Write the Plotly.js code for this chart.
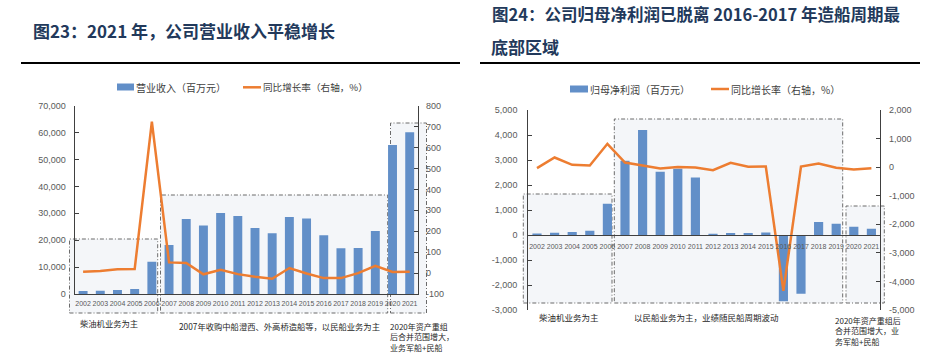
<!DOCTYPE html>
<html>
<head>
<meta charset="utf-8">
<script src="https://cdn.plot.ly/plotly-3.0.1.min.js"></script>
<style>
html,body{margin:0;padding:0;background:#fff;}
#chart{width:943px;height:354px;}
</style>
</head>
<body>
<div id="chart"></div>
<script>
// ---------- data ----------
const years = ['2002','2003','2004','2005','2006','2007','2008','2009','2010','2011',
               '2012','2013','2014','2015','2016','2017','2018','2019','2020','2021'];
// Figure 23: revenue (million yuan) and YoY growth (%)
const revenue = [1100,1250,1500,1850,12000,18200,27900,25500,30100,29000,
                 24500,22550,28600,28100,21800,17000,17100,23400,55400,60100];
const revenueGrowth = [6,10,18,19,724,51,48,-6,16,-5,
                       -18,-27,24,-2,-24,-24,0,35,5,6];
// Figure 24: net profit attributable (million yuan) and YoY growth (%)
const profit = [60,90,120,170,1250,2970,4200,2530,2650,2300,
                53,80,80,100,-2650,-2350,520,453,333,253];
const profitGrowth = [-35,338,82,58,817,163,58,-47,5,-13,
                      -105,152,12,23,-4330,23,128,-23,-82,-35];

// tick labels
const revTicks = [0,10000,20000,30000,40000,50000,60000,70000];
const revGrowthTicks = [-100,0,100,200,300,400,500,600,700,800];
const revGrowthText = ['-100','0','100','200','300','400','500','600','700','800'];
const profitTicks = [-3000,-2000,-1000,0,1000,2000,3000,4000,5000];
const profitText = ['-3,000','-2,000','-1,000','0','1,000','2,000','3,000','4,000','5,000'];
const profitGrowthTicks = [-5000,-4000,-3000,-2000,-1000,0,1000,2000];
const profitGrowthText = ['-5,000','-4,000','-3,000','-2,000','-1,000','0','1,000','2,000'];

// text
const title23 = '图23：2021 年，公司营业收入平稳增长';
const title24a = '图24：公司归母净利润已脱离 2016-2017 年造船周期最';
const title24b = '底部区域';
const legRev = '营业收入（百万元）';
const legGrowth = '同比增长率（右轴，%）';
const legProfit = '归母净利润（百万元）';
const noteA = '柴油机业务为主';
const noteB = '2007年收购中船澄西、外高桥造船等，以民船业务为主';
const noteC = '2020年资产重组<br>后合并范围增大，<br>业务军船+民船';
const noteD = '以民船业务为主，业绩随民船周期波动';
const noteE = '2020年资产重组后<br>合并范围增大，业<br>务军船+民船';

// ---------- styling helpers ----------
const W = 943, H = 354;
const px = x => x / W;
const py = y => 1 - y / H;
const BAR = '#628fc8';
const ORANGE = '#ed7d31';
const AXIS = '#404040';
const TICK = '#595959';
const TITLE = '#22395b';
const CJK = 'Noto Sans CJK SC, sans-serif';
const NUM = 'Liberation Sans, Arial, sans-serif';

const traces = [
  {type:'bar', x:years, y:revenue, name:legRev, xaxis:'x', yaxis:'y',
   marker:{color:BAR}, showlegend:false, hoverinfo:'skip'},
  {type:'scatter', mode:'lines', x:years, y:revenueGrowth, name:legGrowth, xaxis:'x', yaxis:'y2',
   line:{color:ORANGE, width:2.5}, showlegend:false, hoverinfo:'skip'},
  {type:'bar', x:years, y:profit, name:legProfit, xaxis:'x2', yaxis:'y3',
   marker:{color:BAR}, showlegend:false, hoverinfo:'skip'},
  {type:'scatter', mode:'lines', x:years, y:profitGrowth, name:legGrowth, xaxis:'x2', yaxis:'y4',
   line:{color:ORANGE, width:2.5}, showlegend:false, hoverinfo:'skip'}
];

function yAx(extra){
  return Object.assign({
    showgrid:false, zeroline:false, showline:true, linecolor:AXIS, linewidth:1,
    ticks:'inside', ticklen:4, tickcolor:AXIS, tickwidth:1,
    tickfont:{family:NUM, size:9, color:TICK}, fixedrange:true
  }, extra);
}
function xAx(extra){
  return Object.assign({
    type:'category', showgrid:false, zeroline:false, showline:true, linecolor:AXIS, linewidth:1,
    ticks:'', tickfont:{family:NUM, size:7, color:TICK}, range:[-0.5,19.5], fixedrange:true,
    tickangle:0
  }, extra);
}

function box(x0,y0,x1,y1){
  return {type:'rect', xref:'paper', yref:'paper', x0:px(x0), x1:px(x1), y0:py(y1), y1:py(y0),
          fillcolor:'#f4f6f9', line:{color:'#6b6b6b', width:1, dash:'4px,2px,1px,2px'}, layer:'below'};
}
function hline(x0,x1,y,color,width){
  return {type:'line', xref:'paper', yref:'paper', x0:px(x0), x1:px(x1), y0:py(y), y1:py(y),
          line:{color:color, width:width}};
}
function rect(x0,y0,x1,y1,color){
  return {type:'rect', xref:'paper', yref:'paper', x0:px(x0), x1:px(x1), y0:py(y1), y1:py(y0),
          fillcolor:color, line:{width:0}};
}
function txt(text,x,y,size,opts){
  return Object.assign({xref:'paper', yref:'paper', x:px(x), y:py(y), text:text, showarrow:false,
          xanchor:'left', yanchor:'middle', align:'left', borderpad:0,
          font:{family:CJK, size:size, color:'#262626'}}, opts||{});
}

const layout = {
  width:W, height:H, margin:{l:0,r:0,t:0,b:0},
  paper_bgcolor:'#ffffff', plot_bgcolor:'rgba(0,0,0,0)',
  bargap:0.48, showlegend:false,
  xaxis: xAx({domain:[px(74.5), px(418.3)], anchor:'y', ticklabelstandoff:3}),
  yaxis: yAx({domain:[py(294), py(105.7)], anchor:'x', range:[0,70000],
              tickvals:revTicks, tickformat:',d', ticklabelstandoff:6}),
  yaxis2: yAx({overlaying:'y', side:'right', anchor:'x', range:[-100,800],
               tickvals:revGrowthTicks, ticktext:revGrowthText, ticklabelstandoff:5}),
  xaxis2: xAx({domain:[px(528.2), px(880.2)], anchor:'free', position:py(235.3), ticklabelstandoff:4}),
  yaxis3: yAx({domain:[py(310), py(110)], anchor:'x2', range:[-3000,5000],
               tickvals:profitTicks, ticktext:profitText, ticklabelstandoff:8}),
  yaxis4: yAx({overlaying:'y3', side:'right', anchor:'x2', range:[-5000,2000],
               tickvals:profitGrowthTicks, ticktext:profitGrowthText, ticklabelstandoff:6}),
  shapes: [
    box(69.5,239,157.7,313), box(160.5,195,387.7,313), box(390.5,123,426.5,313),
    box(523.3,194,612,303), box(614.3,119,842.7,303), box(846,206,884.3,303),
    hline(21,460,63,'#000000',2), hline(480,920,63,'#000000',2),
    rect(117,83.5,134,90.5,BAR), hline(243,261,87.3,ORANGE,2.5),
    rect(570,85.5,588,92.5,BAR), hline(711,729,89,ORANGE,2.5)
  ],
  annotations: [
    txt('<b>'+title23+'</b>', 32, 30, 17, {font:{family:CJK, size:17, color:TITLE}}),
    txt('<b>'+title24a+'</b>', 491, 14, 16.5, {font:{family:CJK, size:16.5, color:TITLE}}),
    txt('<b>'+title24b+'</b>', 490, 47, 17, {font:{family:CJK, size:17, color:TITLE}}),
    txt(legRev, 135, 87, 10, {font:{family:CJK, size:10, color:'#404040'}}),
    txt(legGrowth, 262, 87, 9.6, {font:{family:CJK, size:9.6, color:'#404040'}}),
    txt(legProfit, 589, 89, 10, {font:{family:CJK, size:10, color:'#404040'}}),
    txt(legGrowth, 730, 89, 10, {font:{family:CJK, size:10, color:'#404040'}}),
    txt(noteA, 79, 322.5, 8.3),
    txt(noteB, 178, 326, 8.3),
    txt(noteC, 389, 336.5, 8),
    txt(noteA, 538, 317, 8.5),
    txt(noteD, 633, 317, 8.5),
    txt(noteE, 834, 331, 8)
  ]
};

Plotly.newPlot('chart', traces, layout, {displayModeBar:false, staticPlot:true});
</script>
</body>
</html>
